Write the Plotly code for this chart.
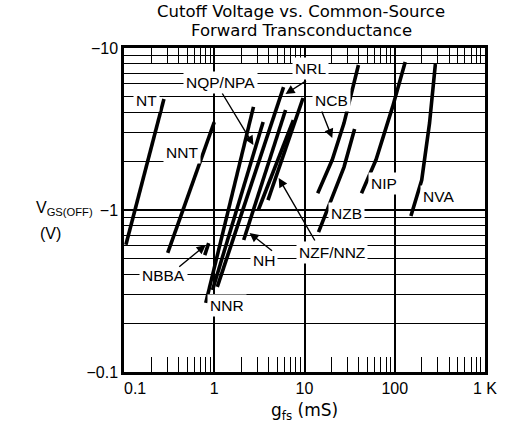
import plotly.graph_objects as go

# ---------------- data (gfs in mS, VGS(OFF) in V) ----------------
nt_gfs = [0.105, 0.277]
nt_vgs = [-0.61, -4.84]

nnt_gfs = [0.305, 1.0]
nnt_vgs = [-0.543, -3.49]

nbba_gfs = [0.785, 0.867]
nbba_vgs = [-0.527, -0.625]

nnr_gfs = [0.805, 2.72]
nnr_vgs = [-0.267, -4.33]

nqp_gfs = [0.957, 3.48]
nqp_vgs = [-0.321, -3.49]

nrl_gfs = [1.08, 5.86]
nrl_vgs = [-0.335, -5.74]

nh_gfs = [2.12, 6.17]
nh_vgs = [-0.653, -4.14]

nzf_gfs = [3.08, 7.52]
nzf_vgs = [-1.0, -3.59]

nnz_gfs = [3.94, 9.64]
nnz_vgs = [-1.15, -4.91]

ncb_gfs = [14.0, 20.3, 27.4, 39.6]
ncb_vgs = [-1.27, -2.04, -3.44, -7.85]

nzb_gfs = [14.3, 27.4, 35.9]
nzb_vgs = [-0.731, -1.84, -3.16]

nip_gfs = [42.8, 62.0, 94.6, 130.6]
nip_vgs = [-1.27, -2.04, -4.33, -8.2]

nva_gfs = [151, 199, 243, 282]
nva_vgs = [-0.918, -1.53, -3.44, -7.96]

x_tickvals = [0.1, 1, 10, 100, 1000]
x_ticktext = ["\u00a0\u00a0\u00a0\u00a0\u00a00.1", "1", "10", "100", "1 K"]
y_tickvals = [0.1, 1, 10]
y_ticktext = ["\u22120.1", "\u22121", "\u221210"]

# ---------------- figure ----------------
W, H = 509, 435
L, R, T, B = 124, 14, 48, 63
PW, PH = W - L - R, H - T - B

def px(xp):
    return (xp - L) / PW

def py(yp):
    return (H - B - yp) / PH

FONT = "Liberation Sans, Arial, Helvetica, sans-serif"
WIDE = "DejaVu Sans, Liberation Sans, sans-serif"

fig = go.Figure()

series = [
    (nt_gfs, nt_vgs), (nnt_gfs, nnt_vgs), (nbba_gfs, nbba_vgs),
    (nnr_gfs, nnr_vgs), (nqp_gfs, nqp_vgs), (nrl_gfs, nrl_vgs),
    (nh_gfs, nh_vgs), (nzf_gfs, nzf_vgs), (nnz_gfs, nnz_vgs),
    (ncb_gfs, ncb_vgs), (nzb_gfs, nzb_vgs), (nip_gfs, nip_vgs),
    (nva_gfs, nva_vgs),
]
for g, v in series:
    fig.add_trace(go.Scatter(
        x=g, y=[-val for val in v], mode="lines",
        line=dict(color="black", width=3.6),
        showlegend=False, hoverinfo="skip"))

minor_x = [m * 10 ** e for e in (-1, 0, 1, 2) for m in range(2, 10)]
minor_y = [m * 10 ** e for e in (-1, 0) for m in range(2, 10)]

fig.update_xaxes(
    type="log", range=[-1, 3], tickvals=x_tickvals, ticktext=x_ticktext,
    showgrid=True, gridcolor="black", gridwidth=1.5,
    ticks="inside", ticklen=15, tickcolor="black", tickwidth=1.3,
    showline=True, linecolor="black", linewidth=2.5, mirror="allticks",
    tickfont=dict(family=FONT, size=16, color="black"),
    minor=dict(tickvals=minor_x, ticks="inside", ticklen=15,
               tickcolor="black", tickwidth=1.3, showgrid=False),
    zeroline=False, fixedrange=True)

fig.update_yaxes(
    type="log", range=[-1, 1], tickvals=y_tickvals, ticktext=y_ticktext,
    showgrid=True, gridcolor="black", gridwidth=1.5,
    ticks="", showline=True, linecolor="black", linewidth=2.5, mirror=True,
    tickfont=dict(family=FONT, size=16, color="black"),
    minor=dict(tickvals=minor_y, showgrid=True, gridcolor="black",
               gridwidth=1.3, ticks=""),
    zeroline=False, fixedrange=True)

def txt(text, xx, yy, size, bg=None, family=FONT):
    d = dict(x=px(xx), y=py(yy), xref="paper", yref="paper", text=text,
             showarrow=False, xanchor="center", yanchor="middle",
             font=dict(family=family, size=size, color="black"))
    if bg:
        d.update(bgcolor=bg, borderpad=2)
    return d

anns = []
anns.append(txt("Cutoff Voltage vs. Common-Source", 306, 12, 16.5, family=WIDE))
anns.append(txt("Forward Transconductance", 306, 31, 16.5, family=WIDE))
anns.append(txt("g<sub>fs</sub> (mS)", 309, 411, 17, family=WIDE))
anns.append(txt("V<sub>GS(OFF)</sub>", 63, 208, 16))
anns.append(txt("(V)", 48, 233, 16))

labels = [
    ("NT", 147, 100), ("NNT", 184, 152), ("NQP/NPA", 223, 82),
    ("NRL", 316, 69), ("NCB", 337, 100), ("NIP", 391, 183),
    ("NVA", 447, 196), ("NZB", 353, 213), ("NZF/NNZ", 338, 252),
    ("NH", 268, 260), ("NBBA", 165, 275), ("NNR", 230, 305),
]
for t, xx, yy in labels:
    anns.append(txt(t, xx, yy, 15.5, bg="white"))

arrows = [
    ((225, 92), (257, 145)), ((312, 80), (290, 94)), ((327, 110), (338, 138)),
    ((320, 242), (283, 178)), ((277, 252), (253, 233)), ((180, 268), (208, 245)),
]
for (tx, ty), (hx, hy) in arrows:
    anns.append(dict(x=px(hx), y=py(hy), xref="paper", yref="paper",
                     ax=tx - hx, ay=ty - hy, axref="pixel", ayref="pixel",
                     text="", showarrow=True, arrowhead=2, arrowsize=1.3,
                     arrowwidth=1.4, arrowcolor="black"))

fig.update_layout(
    width=W, height=H, autosize=False,
    margin=dict(l=L, r=R, t=T, b=B, pad=0),
    paper_bgcolor="white", plot_bgcolor="white",
    annotations=anns, font=dict(family=FONT, color="black"))

fig.write_html("out.html")
